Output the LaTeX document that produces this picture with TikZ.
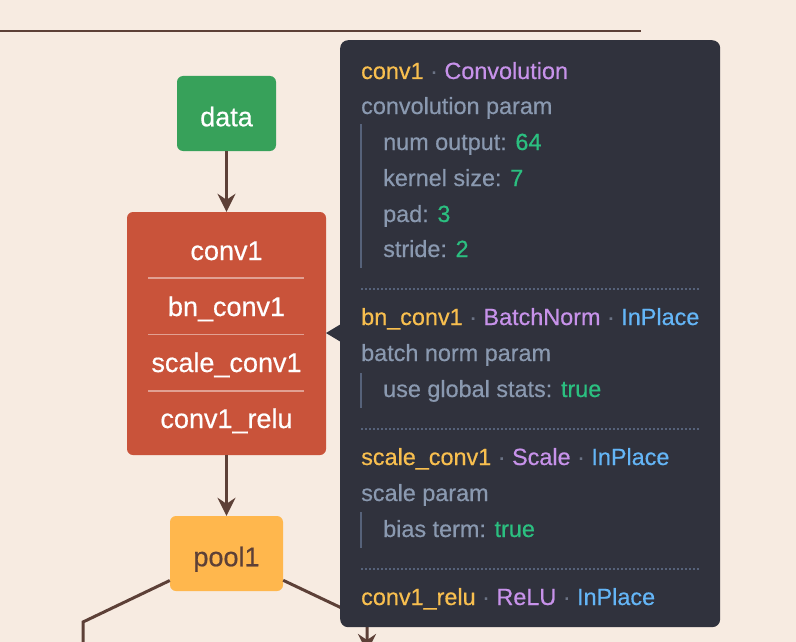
\documentclass[tikz,border=0pt]{standalone}
\usepackage{fontspec}
\setmainfont{Liberation Sans}[FakeBold=0.5]
\usepackage{tikz}
\usetikzlibrary{positioning,arrows.meta,calc,backgrounds}
\definecolor{palBg}{HTML}{F7EBE1}
\definecolor{palBrown}{HTML}{5D4037}
\definecolor{palGreen}{HTML}{37A15A}
\definecolor{palRed}{HTML}{C9533A}
\definecolor{palAmber}{HTML}{FFB74D}
\definecolor{tipBg}{HTML}{30323D}
\definecolor{tipOrange}{HTML}{F8BF4F}
\definecolor{tipPurple}{HTML}{C792EA}
\definecolor{tipBlue}{HTML}{64B5F6}
\definecolor{tipGray}{HTML}{8A99B0}
\definecolor{tipGreen}{HTML}{2BBF80}
\definecolor{tipDot}{HTML}{6B7385}
\definecolor{tipRule}{HTML}{56627A}
\newcommand{\ttdot}{\textcolor{tipDot}{·}}
\newcommand{\ttval}[1]{\textcolor{tipGreen}{#1}}
\tikzset{
  layernode/.style={rounded corners=6pt, inner sep=0pt, text=white,
                    font=\fontsize{27}{32}\selectfont,
                    text height=25.5pt, text depth=0pt},
  datanode/.style={layernode, fill=palGreen, minimum width=99pt,
                   minimum height=75pt},
  convnode/.style={layernode, fill=palRed, minimum width=199pt,
                   minimum height=243pt},
  poolnode/.style={layernode, fill=palAmber, text=palBrown,
                   minimum width=113pt, minimum height=75pt},
  rowlabel/.style={inner sep=0pt, anchor=base, text=white,
                   font=\fontsize{27}{32}\selectfont},
  rowsep/.style={draw=white, draw opacity=0.45, line width=1.5pt},
  tipbox/.style={fill=tipBg, rounded corners=8pt, inner sep=0pt,
                 minimum width=380pt, minimum height=587pt},
  tiptext/.style={inner sep=0pt, anchor=base west, text=tipGray,
                  font=\fontsize{23.4}{28}\selectfont},
  tipbar/.style={draw=tipRule, line width=2pt},
  tipsep/.style={draw=tipRule, line width=1.5pt, dash pattern=on 2pt off 2pt},
  stdarrow/.style={-{Stealth[length=18pt, width=18pt, inset=6pt]},
                   line width=3pt, draw=palBrown},
  edgeline/.style={line width=3pt, draw=palBrown},
}
\begin{document}
\begin{tikzpicture}[x=1pt, y=-1pt]
\clip (0,0) rectangle (796,642);
\fill[palBg] (0,0) rectangle (796,642);
\def\xMid{226.5}  % x-position of the layer column
\def\xTip{361}    % x-position of tooltip text
\def\xSub{383}    % x-position of indented params

%% Top edge
\coordinate (topL) at (0,31);
\coordinate (topR) at (641,31);
\draw[draw=palBrown, line width=2pt] (topL) -- (topR);

%% Layers
\node[datanode] (data) at (\xMid,113.5) {data};
\node[convnode] (conv) at (\xMid,333.5) {};
\node[poolnode] (pool) at (\xMid,553.5) {pool1};

\node[rowlabel] (rConv) at (\xMid,260) {conv1};
\node[rowlabel] (rBn) at (\xMid,316) {bn\_conv1};
\node[rowlabel] (rScale) at (\xMid,372) {scale\_conv1};
\node[rowlabel] (rRelu) at (\xMid,428) {conv1\_relu};
\draw[rowsep] (148,278) -- (304,278);
\draw[rowsep] (148,334.5) -- (304,334.5);
\draw[rowsep] (148,391) -- (304,391);

%% Edges
\draw[stdarrow] (data) -- (conv);
\draw[stdarrow] (conv) -- (pool);
\coordinate (lBend) at (83,622);
\coordinate (lEnd) at (83,700);
\coordinate (rBend) at (367,620);
\coordinate (rEnd) at (367,652);
\draw[edgeline] (pool) -- (lBend) -- (lEnd);
\draw[stdarrow] (pool) -- (rBend) -- (rEnd);

%% Tooltip
\node[tipbox, anchor=north west] (tip) at (340,40) {};
\fill[tipBg] (341,324) -- (326,333) -- (341,342) -- cycle;

\node[tiptext] (tA1) at (\xTip,79) {\textcolor{tipOrange}{conv1} \ttdot{} \textcolor{tipPurple}{Convolution}};
\node[tiptext] (tA2) at (\xTip,114) {convolution param};
\node[tiptext] (tA3) at (\xSub,150) {num output: \ttval{64}};
\node[tiptext] (tA4) at (\xSub,186) {kernel size: \ttval{7}};
\node[tiptext] (tA5) at (\xSub,222) {pad: \ttval{3}};
\node[tiptext] (tA6) at (\xSub,257) {stride: \ttval{2}};
\draw[tipbar] (\xTip,124) -- (\xTip,268);
\draw[tipsep] (\xTip,289) -- (699,289);

\node[tiptext] (tB1) at (\xTip,325) {\textcolor{tipOrange}{bn\_conv1} \ttdot{} \textcolor{tipPurple}{BatchNorm} \ttdot{} \textcolor{tipBlue}{InPlace}};
\node[tiptext] (tB2) at (\xTip,361) {batch norm param};
\node[tiptext] (tB3) at (\xSub,397) {use global stats: \ttval{true}};
\draw[tipbar] (\xTip,373) -- (\xTip,408);
\draw[tipsep] (\xTip,429) -- (699,429);

\node[tiptext] (tC1) at (\xTip,465) {\textcolor{tipOrange}{scale\_conv1} \ttdot{} \textcolor{tipPurple}{Scale} \ttdot{} \textcolor{tipBlue}{InPlace}};
\node[tiptext] (tC2) at (\xTip,501) {scale param};
\node[tiptext] (tC3) at (\xSub,537) {bias term: \ttval{true}};
\draw[tipbar] (\xTip,512) -- (\xTip,548);
\draw[tipsep] (\xTip,569) -- (699,569);

\node[tiptext] (tD1) at (\xTip,605) {\textcolor{tipOrange}{conv1\_relu} \ttdot{} \textcolor{tipPurple}{ReLU} \ttdot{} \textcolor{tipBlue}{InPlace}};
\end{tikzpicture}
\end{document}
